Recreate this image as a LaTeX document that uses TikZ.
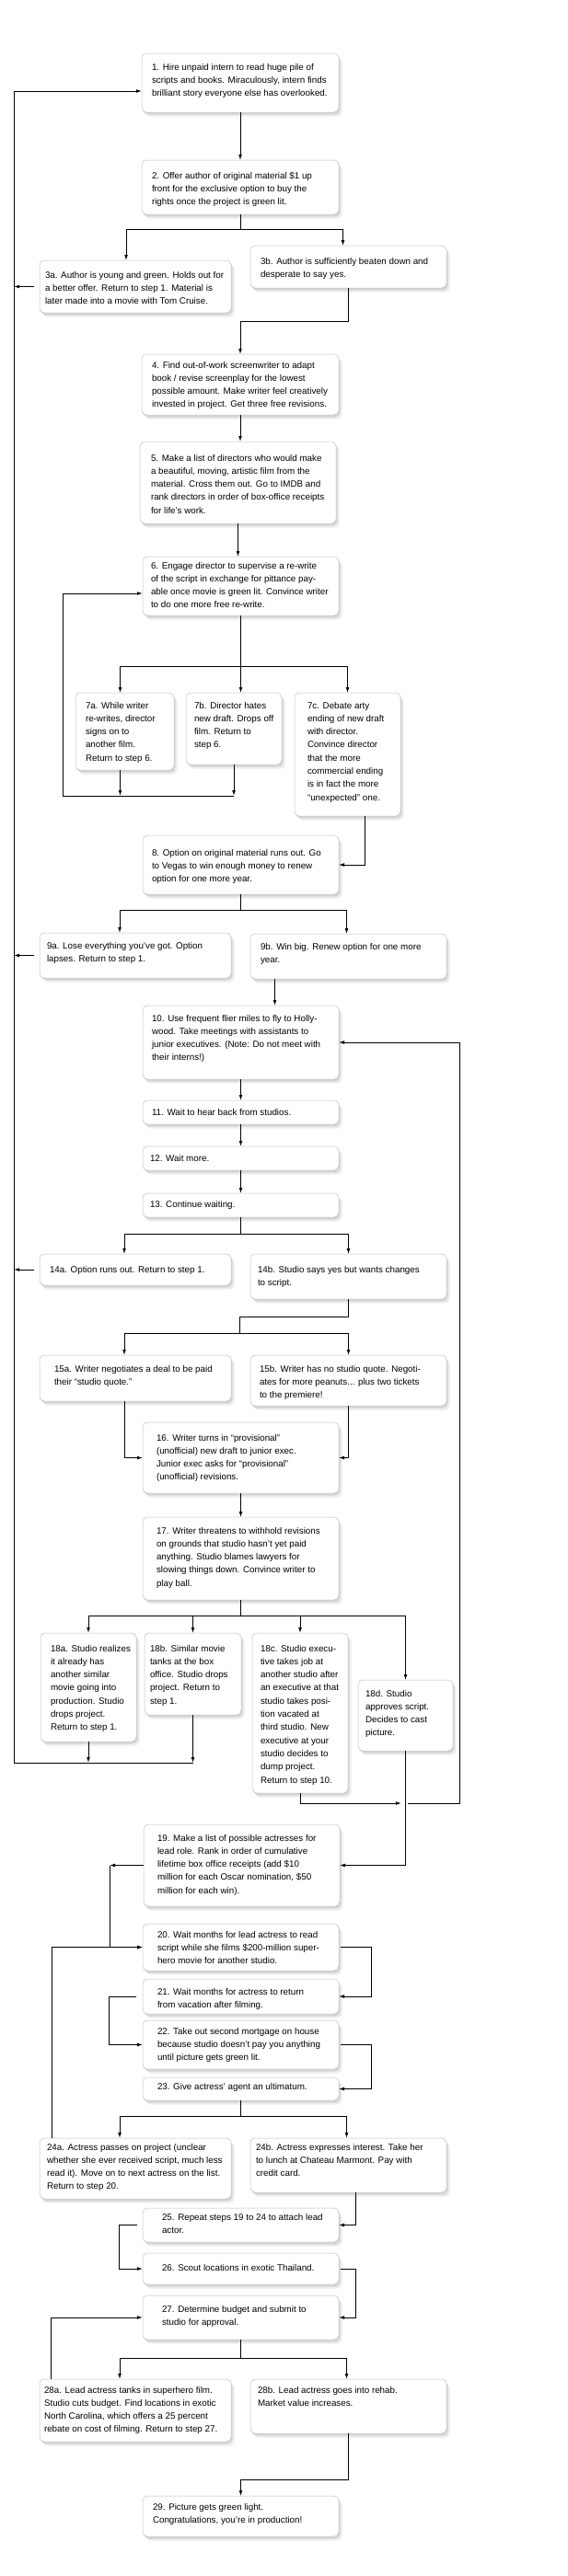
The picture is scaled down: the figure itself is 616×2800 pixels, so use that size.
\documentclass[tikz,border=0pt]{standalone}
\usepackage{fontspec}
\setmainfont{Liberation Sans}
\usetikzlibrary{arrows.meta,shadows}
\newcommand{\cell}[5]{\parbox[t][#2pt][t]{#1pt}{\raggedright\leftskip=#3pt\relax\rightskip=0pt plus 1fil minus 60pt\relax\linepenalty=5000\hbadness=10000\relax\vspace*{\dimexpr#4pt-10pt\relax}\strut#5}}
\begin{document}
\begin{tikzpicture}[x=1pt,y=-1pt,
	stepbox/.style={draw=black!25, line width=0.5pt, fill=white, rounded corners=5pt, inner sep=0pt, outer sep=0pt, anchor=north west, font=\fontsize{9.8}{14.3}\selectfont,
		drop shadow={shadow xshift=3.5pt, shadow yshift=-4.5pt, opacity=0.14},
		drop shadow={shadow xshift=1.5pt, shadow yshift=-2.5pt, opacity=0.22}},
	arr/.style={line width=0.9pt, -{Latex[length=6pt,width=3.8pt]}}]
\fill[white] (0,0) rectangle (616,2800);
\node[stepbox] (s1) at (154,58) {\cell{214}{64}{11}{18}{1. Hire unpaid intern to read huge pile of\\scripts and books. Miraculously, intern finds\\brilliant story everyone else has overlooked.}};
\node[stepbox] (s2) at (154,174) {\cell{214}{59}{11}{20}{2. Offer author of original material \$1 up\\front for the exclusive option to buy the\\rights once the project is green lit.}};
\node[stepbox] (s3a) at (43,283) {\cell{208}{57}{6}{19}{3a. Author is young and green. Holds out for\\a better offer. Return to step 1. Material is\\later made into a movie with Tom Cruise.}};
\node[stepbox] (s3b) at (272,267) {\cell{213}{46}{11}{20}{3b. Author is sufficiently beaten down and\\desperate to say yes.}};
\node[stepbox] (s4) at (154,385) {\cell{214}{66}{11}{15}{4. Find out-of-work screenwriter to adapt\\book / revise screenplay for the lowest\\possible amount. Make writer feel creatively\\invested in project. Get three free revisions.}};
\node[stepbox] (s5) at (152,480) {\cell{213}{89}{12}{21}{5. Make a list of directors who would make\\a beautiful, moving, artistic film from the\\material. Cross them out. Go to IMDB and\\rank directors in order of box-office receipts\\for life’s work.}};
\node[stepbox] (s6) at (155,605) {\cell{213}{64}{9}{13}{6. Engage director to supervise a re-write\\of the script in exchange for pittance pay-\\able once movie is green lit. Convince writer\\to do one more free re-write.}};
\node[stepbox] (s7a) at (82,753) {\cell{107}{84}{11}{17}{7a. While writer\\re-writes, director\\signs on to\\another film.\\Return to step 6.}};
\node[stepbox] (s7b) at (202,753) {\cell{104}{78}{9}{17}{7b. Director hates\\new draft. Drops off\\film. Return to\\step 6.}};
\node[stepbox] (s7c) at (320,753) {\cell{115}{134}{14}{17}{7c. Debate arty\\ending of new draft\\with director.\\Convince director\\that the more\\commercial ending\\is in fact the more\\“unexpected” one.}};
\node[stepbox] (s8) at (155,908) {\cell{213}{64}{10}{22}{8. Option on original material runs out. Go\\to Vegas to win enough money to renew\\option for one more year.}};
\node[stepbox] (s9a) at (43,1014) {\cell{208}{49}{8}{17}{9a. Lose everything you’ve got. Option\\lapses. Return to step 1.}};
\node[stepbox] (s9b) at (272,1015) {\cell{213}{49}{11}{17}{9b. Win big. Renew option for one more\\year.}};
\node[stepbox] (s10) at (155,1093) {\cell{213}{80}{10}{17}{10. Use frequent flier miles to fly to Holly-\\wood. Take meetings with assistants to\\junior executives. (Note: Do not meet with\\their interns!)}};
\node[stepbox] (s11) at (155,1196) {\cell{213}{26}{10}{16}{11. Wait to hear back from studios.}};
\node[stepbox] (s12) at (155,1246) {\cell{213}{26}{8}{16}{12. Wait more.}};
\node[stepbox] (s13) at (155,1297) {\cell{213}{26}{8}{15}{13. Continue waiting.}};
\node[stepbox] (s14a) at (43,1363) {\cell{208}{34}{11}{20}{14a. Option runs out. Return to step 1.}};
\node[stepbox] (s14b) at (272,1363) {\cell{213}{49}{8}{20}{14b. Studio says yes but wants changes\\to script.}};
\node[stepbox] (s15a) at (43,1473) {\cell{208}{50}{16}{18}{15a. Writer negotiates a deal to be paid\\their “studio quote.”}};
\node[stepbox] (s15b) at (272,1473) {\cell{213}{55}{10}{18}{15b. Writer has no studio quote. Negoti-\\ates for more peanuts... plus two tickets\\to the premiere!}};
\node[stepbox] (s16) at (155,1546) {\cell{213}{77}{15}{20}{16. Writer turns in “provisional”\\(unofficial) new draft to junior exec.\\Junior exec asks for “provisional”\\(unofficial) revisions.}};
\node[stepbox] (s17) at (155,1649) {\cell{213}{90}{15}{18}{17. Writer threatens to withhold revisions\\on grounds that studio hasn’t yet paid\\anything. Studio blames lawyers for\\slowing things down. Convince writer to\\play ball.}};
\node[stepbox] (s18a) at (44,1775) {\cell{104}{118}{11}{20}{18a. Studio realizes\\it already has\\another similar\\movie going into\\production. Studio\\drops project.\\Return to step 1.}};
\node[stepbox] (s18b) at (157,1775) {\cell{105}{89}{6}{20}{18b. Similar movie\\tanks at the box\\office. Studio drops\\project. Return to\\step 1.}};
\node[stepbox] (s18c) at (274,1775) {\cell{104}{174}{9}{20}{18c. Studio execu-\\tive takes job at\\another studio after\\an executive at that\\studio takes posi-\\tion vacated at\\third studio. New\\executive at your\\studio decides to\\dump project.\\Return to step 10.}};
\node[stepbox] (s18d) at (389,1826) {\cell{103}{77}{8}{18}{18d. Studio\\approves script.\\Decides to cast\\picture.}};
\node[stepbox] (s19) at (156,1983) {\cell{213}{89}{15}{18}{19. Make a list of possible actresses for\\lead role. Rank in order of cumulative\\lifetime box office receipts (add \$10\\million for each Oscar nomination, \$50\\million for each win).}};
\node[stepbox] (s20) at (155,2091) {\cell{213}{51}{16}{15}{20. Wait months for lead actress to read\\script while she films \$200-million super-\\hero movie for another studio.}};
\node[stepbox] (s21) at (155,2151) {\cell{213}{38}{16}{17}{21. Wait months for actress to return\\from vacation after filming.}};
\node[stepbox] (s22) at (155,2196) {\cell{213}{53}{16}{15}{22. Take out second mortgage on house\\because studio doesn’t pay you anything\\until picture gets green lit.}};
\node[stepbox] (s23) at (155,2258) {\cell{213}{25}{16}{13}{23. Give actress’ agent an ultimatum.}};
\node[stepbox] (s24a) at (43,2324) {\cell{208}{66}{8}{13}{24a. Actress passes on project (unclear\\whether she ever received script, much less\\read it). Move on to next actress on the list.\\Return to step 20.}};
\node[stepbox] (s24b) at (272,2324) {\cell{213}{59}{6}{13}{24b. Actress expresses interest. Take her\\to lunch at Chateau Marmont. Pay with\\credit card.}};
\node[stepbox] (s25) at (155,2400) {\cell{213}{37}{21}{13}{25. Repeat steps 19 to 24 to attach lead\\actor.}};
\node[stepbox] (s26) at (155,2449) {\cell{213}{34}{21}{19}{26. Scout locations in exotic Thailand.}};
\node[stepbox] (s27) at (155,2495) {\cell{213}{48}{21}{18}{27. Determine budget and submit to\\studio for approval.}};
\node[stepbox] (s28a) at (43,2586) {\cell{208}{68}{5}{15}{28a. Lead actress tanks in superhero film.\\Studio cuts budget. Find locations in exotic\\North Carolina, which offers a 25 percent\\rebate on cost of filming. Return to step 27.}};
\node[stepbox] (s28b) at (272,2586) {\cell{213}{59}{8}{15}{28b. Lead actress goes into rehab.\\Market value increases.}};
\node[stepbox] (s29) at (155,2713) {\cell{213}{44}{11}{15}{29. Picture gets green light.\\Congratulations, you’re in production!}};
\coordinate (rail1) at (15,1916);
\coordinate (rail6) at (68,865);
\coordinate (rail10) at (499,1960);
\coordinate (c19) at (119,2027);
\coordinate (j15) at (260,1449);
\draw[arr] (s1) -- (s2);
\draw[arr] (s2.south) -- ++(0,16) -| ([xshift=-10pt]s3a.north);
\draw[arr] (s2.south) -- ++(0,16) -| ([xshift=-6pt]s3b.north);
\draw[arr] ([xshift=-6pt]s3a.west) -- (s3a.west -| rail1);
\draw[arr] (s3b.south) -- ++(0,36) -| (s4.north);
\draw[arr] (s4.south) -- (s4.south |- s5.north);
\draw[arr] (s5.south) -- (s5.south |- s6.north);
\draw[arr] (s6.south) -- ++(0,55) -| ([xshift=-5pt]s7a.north);
\draw[arr] (s6.south) -- (s6.south |- s7b.north);
\draw[arr] (s6.south) -- ++(0,55) -| (s7c.north);
\draw[arr] ([xshift=-5pt]s7a.south) -- ([xshift=-5pt]s7a.south |- rail6);
\draw[arr] (s7b.south) -- (s7b.south |- rail6);
\draw[arr] (s7b.south |- rail6) -- (rail6) |- ([yshift=-8pt]s6.west);
\draw[arr] ([xshift=19pt]s7c.south) |- (s8.east);
\draw[arr] (s8.south) -- ++(0,17) -| ([xshift=-17pt]s9a.north);
\draw[arr] (s8.south) -- ++(0,17) -| ([xshift=-2pt]s9b.north);
\draw[arr] ([xshift=-6pt]s9a.west) -- (s9a.west -| rail1);
\draw[arr] ([xshift=-80pt]s9b.south) -- ([xshift=-80pt]s9b.south |- s10.north);
\draw[arr] (s10) -- (s11);
\draw[arr] (s11) -- (s12);
\draw[arr] (s12) -- (s13);
\draw[arr] (s13.south) -- ++(0,18) -| ([xshift=-12pt]s14a.north);
\draw[arr] (s13.south) -- ++(0,18) -| (s14b.north);
\draw[arr] ([xshift=-6pt]s14a.west) -- (s14a.west -| rail1);
\draw[line width=0.9pt] (s14b.south) -- ++(0,19) -| (j15);
\draw[arr] (j15) -| ([xshift=-12pt]s15a.north);
\draw[arr] (j15) -| (s15b.north);
\draw[arr] ([xshift=-12pt]s15a.south) |- (s16.west);
\draw[arr] (s15b.south) |- (s16.east);
\draw[arr] (s16) -- (s17);
\draw[arr] (s17.south) -- ++(0,17) -| (s18a.north);
\draw[arr] (s17.south) -- ++(0,17) -| (s18b.north);
\draw[arr] (s17.south) -- ++(0,17) -| (s18c.north);
\draw[arr] (s17.south) -- ++(0,17) -| (s18d.north);
\draw[arr] (s18a.south) -- (s18a.south |- rail1);
\draw[arr] (s18b.south) -- (s18b.south |- rail1);
\draw[arr] (s18b.south |- rail1) -- (rail1) |- ([yshift=-9pt]s1.west);
\draw[arr] (s18c.south) |- ([xshift=-63pt]rail10);
\draw[arr] ([xshift=-56pt]rail10) -- (rail10) |- (s10.east);
\draw[arr] (s18d.south) |- (s19.east);
\draw[arr] (s19.west) -- (s19.west -| c19);
\draw[arr] (s19.west -| c19) |- (s20.west);
\draw[arr] ([xshift=-91pt]s24a.north) |- (s20.west);
\draw[arr] ([xshift=2pt]s20.east) -- ++(33,0) |- (s21.east);
\draw[arr] ([xshift=-7pt]s21.west) -- ++(-30,0) |- (s22.west);
\draw[arr] ([xshift=2pt]s22.east) -- ++(33,0) |- (s23.east);
\draw[arr] (s23.south) -- ++(0,17) -| ([xshift=-17pt]s24a.north);
\draw[arr] (s23.south) -- ++(0,17) -| ([xshift=-2pt]s24b.north);
\draw[arr] ([xshift=8pt]s24b.south) |- (s25.east);
\draw[arr] ([xshift=-6pt]s25.west) -- ++(-20,0) |- (s26.west);
\draw[arr] ([xshift=2pt]s26.east) -- ++(16,0) |- (s27.east);
\draw[arr] (s27.south) -- ++(0,20) -| ([xshift=-17pt]s28a.north);
\draw[arr] (s27.south) -- ++(0,20) -| ([xshift=-2pt]s28b.north);
\draw[arr] ([xshift=-92pt]s28a.north) |- (s27.west);
\draw[arr] (s28b.south) -- ++(0,50) -| (s29.north);
\end{tikzpicture}
\end{document}
